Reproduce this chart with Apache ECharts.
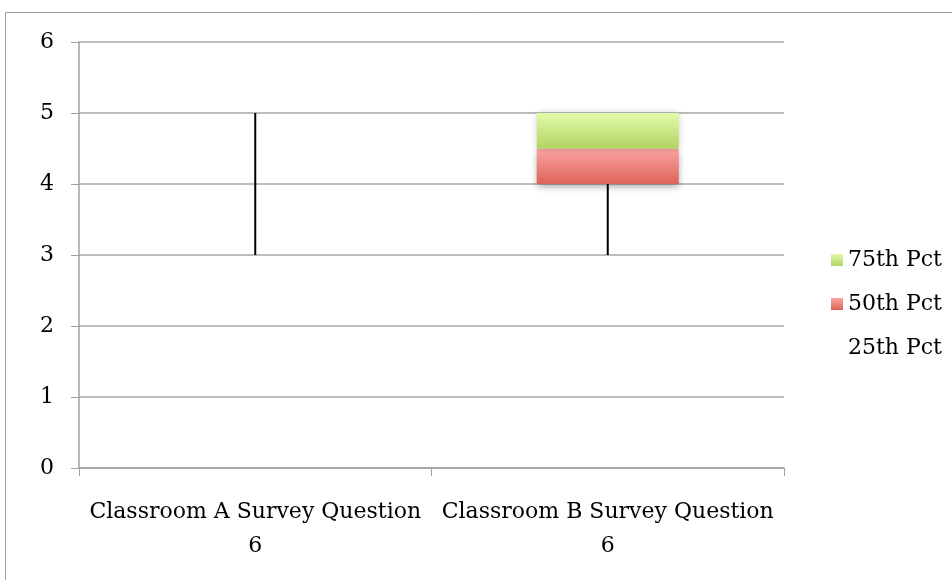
<!DOCTYPE html>
<html>
<head>
<meta charset="utf-8">
<script src="https://cdn.jsdelivr.net/npm/echarts@6/dist/echarts.min.js"></script>
<style>
  html, body { margin: 0; padding: 0; background: #fff; }
  #chart { width: 952px; height: 580px; }
</style>
</head>
<body>
<div id="chart"></div>
<script>
// Quartile summary per classroom
const categories = ['Classroom A Survey Question 6', 'Classroom B Survey Question 6'];
const minValues = [3, 3];
const maxValues = [5, 5];
const pct25 = [5, 4];
const pct50 = [5, 4.5];
const pct75 = [5, 5];
const yTicks = [0, 1, 2, 3, 4, 5, 6];

const FONT = 'DejaVu Serif';
const FONT_SIZE = 22;

// Stacked segments: invisible base up to the 25th, then 25th→50th and 50th→75th
const seg50 = pct50.map((v, i) => v - pct25[i]);
const seg75 = pct75.map((v, i) => v - pct50[i]);

const chart = echarts.init(document.getElementById('chart'));

const redGrad = new echarts.graphic.LinearGradient(0, 0, 0, 1, [
  { offset: 0, color: '#f9a5a1' },
  { offset: 1, color: '#df6358' }
]);
const greenGrad = new echarts.graphic.LinearGradient(0, 0, 0, 1, [
  { offset: 0, color: '#e2faaa' },
  { offset: 1, color: '#b2d563' }
]);
const redIcon = new echarts.graphic.LinearGradient(0, 0, 0, 1, [
  { offset: 0, color: '#f9a5a1' },
  { offset: 1, color: '#df6358' }
]);
const greenIcon = new echarts.graphic.LinearGradient(0, 0, 0, 1, [
  { offset: 0, color: '#e2faaa' },
  { offset: 1, color: '#b2d563' }
]);

chart.setOption({
  animation: false,
  backgroundColor: '#ffffff',
  graphic: [{
    type: 'rect',
    shape: { x: 5.5, y: 12.5, width: 1000, height: 700 },
    style: { fill: 'none', stroke: '#a0a0a0', lineWidth: 1 },
    silent: true, z: -10
  }],
  grid: { left: 79, right: 168, top: 42, bottom: 112 },
  legend: {
    orient: 'vertical',
    left: 826,
    top: 244,
    itemGap: 22,
    itemWidth: 12,
    itemHeight: 12,
    textStyle: { fontFamily: FONT, fontSize: FONT_SIZE, color: '#000' },
    data: [
      { name: '75th Pct', icon: 'rect', itemStyle: { color: greenIcon } },
      { name: '50th Pct', icon: 'rect', itemStyle: { color: redIcon } },
      { name: '25th Pct', icon: 'rect', itemStyle: { color: 'rgba(0,0,0,0)' } }
    ]
  },
  xAxis: {
    type: 'category',
    data: categories,
    axisLine: { lineStyle: { color: '#a0a0a0', width: 1.5 } },
    axisTick: { show: true, length: 8, lineStyle: { color: '#a0a0a0' } },
    axisLabel: {
      fontFamily: FONT, fontSize: FONT_SIZE, color: '#000', margin: 27,
      lineHeight: 34, interval: 0,
      formatter: v => v.replace(/ (\d+)$/, '\n$1')
    }
  },
  yAxis: {
    type: 'value',
    min: yTicks[0],
    max: yTicks[yTicks.length - 1],
    interval: 1,
    axisLine: { show: true, lineStyle: { color: '#a0a0a0', width: 1.5 } },
    axisTick: { show: true, length: 8, lineStyle: { color: '#a0a0a0' } },
    splitLine: { lineStyle: { color: '#a6a6a6', width: 1.5 } },
    axisLabel: { fontFamily: FONT, fontSize: FONT_SIZE, color: '#000', margin: 25 }
  },
  series: [
    {
      // high-low whiskers outside the quartile box
      name: 'whisker',
      type: 'custom',
      z: 1,
      data: categories.map((c, i) => [i, minValues[i], pct25[i], pct75[i], maxValues[i]]),
      renderItem: (params, api) => {
        const x = api.value(0);
        const pLo = api.coord([x, api.value(1)]);
        const pQ1 = api.coord([x, api.value(2)]);
        const pQ3 = api.coord([x, api.value(3)]);
        const pHi = api.coord([x, api.value(4)]);
        const style = { stroke: '#000', lineWidth: 2 };
        return {
          type: 'group',
          children: [
            { type: 'line', shape: { x1: pLo[0], y1: pLo[1], x2: pQ1[0], y2: pQ1[1] }, style },
            { type: 'line', shape: { x1: pQ3[0], y1: pQ3[1], x2: pHi[0], y2: pHi[1] }, style }
          ]
        };
      }
    },
    {
      name: '25th Pct',
      type: 'bar',
      stack: 'q',
      barWidth: 142,
      z: 2,
      itemStyle: { color: 'rgba(0,0,0,0)' },
      data: pct25
    },
    {
      name: '50th Pct',
      type: 'bar',
      stack: 'q',
      z: 3,
      itemStyle: {
        color: redGrad,
        shadowColor: 'rgba(0,0,0,0.35)', shadowBlur: 7, shadowOffsetY: 3
      },
      data: seg50
    },
    {
      name: '75th Pct',
      type: 'bar',
      stack: 'q',
      z: 3,
      itemStyle: {
        color: greenGrad,
        shadowColor: 'rgba(0,0,0,0.2)', shadowBlur: 6, shadowOffsetY: 0
      },
      data: seg75
    }
  ]
});
</script>
</body>
</html>
